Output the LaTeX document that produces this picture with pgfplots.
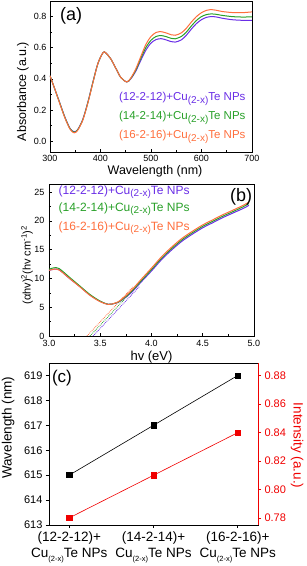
\documentclass[border=0pt]{standalone}
\usepackage{fontspec}
\setmainfont{Liberation Sans}
\usepackage{pgfplots}
\pgfplotsset{compat=1.18}
\definecolor{cpur}{RGB}{105,45,230}
\definecolor{cgrn}{RGB}{40,160,40}
\definecolor{corg}{RGB}{255,110,60}
\definecolor{cred}{RGB}{240,0,0}
\newcommand{\sub}[1]{\raisebox{-0.4ex}{\fontsize{10}{10}\selectfont #1}}
\newcommand{\subc}[1]{\raisebox{-0.45ex}{\fontsize{7.5}{7.5}\selectfont #1}}
\pgfplotsset{base/.style={scale only axis, anchor=south west,
  axis line style={line width=0.8pt},
  every tick/.style={line width=0.6pt, black},
  major tick length=3pt, minor tick length=1.8pt, tick align=inside,
  /pgf/number format/assume math mode=true,
  label style={font=\fontsize{12.5}{13}\selectfont},
  tick label style={font=\fontsize{9}{9}\selectfont}}}
\begin{document}
\begin{tikzpicture}
\path[use as bounding box] (0,0) rectangle (307pt,566pt);
% ---------------- (a)
\begin{axis}[base, at={(50pt,414pt)}, width=202pt, height=151pt,
  xtick pos=bottom, ytick pos=left,
  xmin=300, xmax=700, ymin=-0.07, ymax=0.9,
  xtick={300,400,500,600,700}, ytick={0,0.2,0.4,0.6,0.8},
  minor x tick num=1, minor y tick num=1,
  yticklabel style={/pgf/number format/.cd, fixed, fixed zerofill, precision=1},
  xlabel={Wavelength (nm)}, ylabel={Absorbance (a.u.)},
  xlabel style={at={(axis description cs:0.52,-0.13)}, anchor=center},
  ylabel style={at={(axis description cs:-0.134,0.40)}, anchor=center}]
\addplot[cpur, line width=1pt, smooth] coordinates {(300,0.42)(310,0.33)(320,0.24)(330,0.15)(340,0.08)(348,0.06)(355,0.075)(365,0.14)(375,0.25)(385,0.38)(395,0.50)(405,0.568)(410,0.568)(420,0.53)(430,0.47)(440,0.41)(452,0.38)(460,0.40)(470,0.45)(480,0.52)(490,0.585)(500,0.63)(510,0.652)(520,0.658)(530,0.65)(540,0.639)(548,0.636)(560,0.65)(570,0.68)(580,0.72)(590,0.755)(600,0.78)(610,0.795)(620,0.80)(630,0.797)(640,0.79)(660,0.78)(680,0.776)(700,0.776)};
\addplot[cgrn, line width=1pt, smooth] coordinates {(300,0.42)(310,0.33)(320,0.238)(330,0.148)(340,0.078)(348,0.057)(355,0.073)(365,0.138)(375,0.248)(385,0.378)(395,0.50)(405,0.568)(410,0.568)(420,0.53)(430,0.47)(440,0.41)(452,0.38)(460,0.403)(470,0.457)(480,0.533)(490,0.602)(500,0.648)(510,0.672)(520,0.678)(530,0.671)(540,0.660)(548,0.657)(560,0.672)(570,0.70)(580,0.74)(590,0.775)(600,0.80)(610,0.813)(620,0.817)(630,0.814)(640,0.808)(660,0.80)(680,0.797)(700,0.798)};
\addplot[corg, line width=1pt, smooth] coordinates {(300,0.42)(310,0.33)(320,0.235)(330,0.145)(340,0.075)(348,0.053)(355,0.07)(365,0.135)(375,0.245)(385,0.375)(395,0.50)(405,0.568)(410,0.568)(420,0.53)(430,0.47)(440,0.41)(452,0.38)(460,0.405)(470,0.465)(480,0.545)(490,0.622)(500,0.672)(510,0.698)(518,0.704)(530,0.695)(540,0.683)(548,0.68)(560,0.695)(570,0.725)(580,0.765)(590,0.80)(600,0.825)(610,0.84)(618,0.845)(630,0.84)(640,0.833)(660,0.826)(680,0.825)(700,0.83)};
\node[anchor=east, cpur, font=\fontsize{11.5}{12}\selectfont] at (axis description cs:0.985,0.351) {(12-2-12)+Cu\sub{(2-x)}Te NPs};
\node[anchor=east, cgrn, font=\fontsize{11.5}{12}\selectfont] at (axis description cs:0.985,0.225) {(14-2-14)+Cu\sub{(2-x)}Te NPs};
\node[anchor=east, corg, font=\fontsize{11.5}{12}\selectfont] at (axis description cs:0.985,0.10) {(16-2-16)+Cu\sub{(2-x)}Te NPs};
\node[font=\fontsize{18}{18}\selectfont] at (axis description cs:0.104,0.90) {(a)};
\end{axis}
% ---------------- (b)
\begin{axis}[base, at={(49pt,230pt)}, width=205pt, height=152pt,
  xtick pos=bottom, ytick pos=left,
  xmin=3, xmax=5, ymin=0, ymax=26.4,
  xtick={3,3.5,4,4.5,5}, ytick={0,5,10,15,20,25},
  minor x tick num=1, minor y tick num=1,
  xticklabel style={yshift=-1pt, /pgf/number format/.cd, fixed, fixed zerofill, precision=1},
  yticklabel style={xshift=-1pt},
  xlabel={hv (eV)}, ylabel={(αhv)\textsuperscript{2}(hv cm\textsuperscript{-1})\textsuperscript{2}},
  xlabel style={at={(axis description cs:0.5,-0.136)}, anchor=center, font=\fontsize{13}{13}\selectfont},
  ylabel style={at={(axis description cs:-0.107,0.467)}, anchor=center, font=\fontsize{11}{11}\selectfont}]
\addplot[corg, densely dotted, line width=0.8pt] coordinates {(3.37,0)(3.82,8.55)};
\addplot[cgrn, densely dotted, line width=0.8pt] coordinates {(3.40,0)(3.85,8.55)};
\addplot[cpur, densely dotted, line width=0.8pt] coordinates {(3.43,0)(3.88,8.55)};
\addplot[cpur, line width=1pt, smooth] coordinates {(3.00,11.4)(3.05,11.6)(3.10,11.5)(3.20,10.0)(3.30,8.6)(3.40,7.1)(3.50,6.0)(3.58,5.5)(3.65,5.7)(3.70,6.1)(3.80,7.5)(3.90,9.4)(4.00,11.3)(4.10,13.3)(4.20,15.0)(4.30,16.5)(4.40,17.7)(4.50,18.8)(4.60,19.7)(4.70,20.6)(4.80,21.4)(4.90,22.2)(4.95,22.7)};
\addplot[cgrn, line width=1pt, smooth] coordinates {(3.00,11.6)(3.05,11.85)(3.10,11.7)(3.20,10.2)(3.30,8.7)(3.40,7.2)(3.50,6.05)(3.58,5.5)(3.65,5.72)(3.70,6.15)(3.80,7.65)(3.90,9.6)(4.00,11.55)(4.10,13.55)(4.20,15.25)(4.30,16.75)(4.40,17.95)(4.50,19.05)(4.60,19.95)(4.70,20.85)(4.80,21.65)(4.90,22.5)(4.95,23.0)};
\addplot[corg, line width=1pt, smooth] coordinates {(3.00,11.4)(3.05,11.6)(3.10,11.45)(3.20,10.0)(3.30,8.55)(3.40,7.05)(3.50,5.95)(3.58,5.48)(3.65,5.75)(3.70,6.25)(3.80,7.85)(3.90,9.85)(4.00,11.8)(4.10,13.8)(4.20,15.5)(4.30,17.0)(4.40,18.2)(4.50,19.3)(4.60,20.2)(4.70,21.1)(4.80,21.9)(4.90,22.75)(4.95,23.25)};
\node[anchor=west, cpur, font=\fontsize{12}{12}\selectfont] at (axis description cs:0.03,0.947) {(12-2-12)+Cu\sub{(2-x)}Te NPs};
\node[anchor=west, cgrn, font=\fontsize{12}{12}\selectfont] at (axis description cs:0.03,0.833) {(14-2-14)+Cu\sub{(2-x)}Te NPs};
\node[anchor=west, corg, font=\fontsize{12}{12}\selectfont] at (axis description cs:0.03,0.71) {(16-2-16)+Cu\sub{(2-x)}Te NPs};
\node[font=\fontsize{18}{18}\selectfont] at (axis description cs:0.937,0.916) {(b)};
\end{axis}
% ---------------- (c)
\begin{axis}[base, at={(49pt,41pt)}, width=209pt, height=162pt,
  xtick pos=bottom, ytick pos=left, tick align=outside,
  xmin=-0.24, xmax=2.24, ymin=613, ymax=619.5,
  xtick={0,1,2}, ytick={613,614,615,616,617,618,619},
  tick label style={font=\fontsize{11}{11}\selectfont},
  xticklabels={{(12-2-12)+\\Cu\subc{(2-x)}Te NPs},{(14-2-14)+\\Cu\subc{(2-x)}Te NPs},{(16-2-16)+\\Cu\subc{(2-x)}Te NPs}},
  xticklabel style={align=center, font=\fontsize{13.5}{16.5}\selectfont},
  ylabel={Wavelength (nm)},
  ylabel style={at={(axis description cs:-0.196,0.6)}, anchor=center, font=\fontsize{13.5}{14}\selectfont}]
\addplot[black, mark=square*, mark size=2.6pt, line width=0.6pt] coordinates {(0,615)(1,617)(2,619)};
\node[font=\fontsize{17}{17}\selectfont] at (axis description cs:0.062,0.907) {(c)};
\end{axis}
\begin{axis}[base, at={(49pt,41pt)}, width=209pt, height=162pt,
  axis x line=none, axis y line*=right, tick align=outside,
  y axis line style={cred, line width=0.8pt},
  every tick/.style={line width=0.6pt, cred},
  xmin=-0.24, xmax=2.24, ymin=0.775, ymax=0.889,
  ytick={0.78,0.80,0.82,0.84,0.86,0.88},
  yticklabel style={cred, font=\fontsize{11}{11}\selectfont, /pgf/number format/.cd, fixed, fixed zerofill, precision=2},
  ylabel={Intensity (a.u.)},
  ylabel style={cred, rotate=180, at={(axis description cs:1.187,0.49)}, anchor=center, font=\fontsize{13.5}{14}\selectfont}]
\addplot[cred, mark=square*, mark size=2.6pt, line width=0.6pt] coordinates {(0,0.78)(1,0.81)(2,0.84)};
\end{axis}
\end{tikzpicture}
\end{document}
